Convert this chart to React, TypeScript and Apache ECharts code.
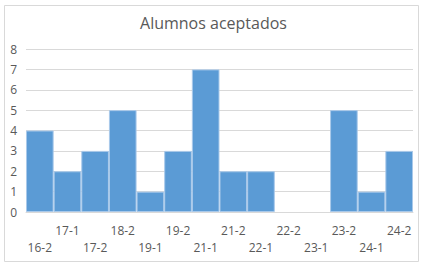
import React, { useEffect, useRef } from "react";
import * as echarts from "echarts";

const categories = ["16-2", "17-1", "17-2", "18-2", "19-1", "19-2", "21-1", "21-2", "22-1", "22-2", "23-1", "23-2", "24-1", "24-2"];
const values = [4, 2, 3, 5, 1, 3, 7, 2, 2, 0, 0, 5, 1, 3];
const yTicks = { min: 0, max: 8, interval: 1 };
const title = "Alumnos aceptados";

export default function App() {
  const ref = useRef<HTMLDivElement>(null);
  useEffect(() => {
    if (!ref.current) return;
    const chart = echarts.init(ref.current, null, { renderer: "svg" });
    const font = "Open Sans";
    chart.setOption({
      animation: false,
      backgroundColor: "#ffffff",
      textStyle: { fontFamily: font },
      title: {
        text: title,
        left: "center",
        top: 10,
        textStyle: { fontFamily: font, fontSize: 16, fontWeight: "normal", color: "#595959" },
      },
      graphic: [
        {
          type: "rect",
          shape: { x: 4.5, y: 5.5, width: 414, height: 256 },
          style: { fill: "none", stroke: "#d9d9d9", lineWidth: 1 },
          silent: true,
        },
      ],
      grid: { left: 26, right: 14, top: 49, bottom: 57 },
      xAxis: {
        type: "category",
        data: categories,
        axisTick: { show: false },
        axisLine: { lineStyle: { color: "#d9d9d9" } },
        axisLabel: {
          interval: 0,
          margin: 10,
          fontSize: 12,
          lineHeight: 17,
          color: "#595959",
          fontFamily: font,
          formatter: (v: string, i: number) => (i % 2 === 1 ? v : "\n" + v),
        },
      },
      yAxis: {
        type: "value",
        min: yTicks.min,
        max: yTicks.max,
        interval: yTicks.interval,
        axisLine: { show: false },
        axisTick: { show: false },
        splitLine: { lineStyle: { color: "#d9d9d9" } },
        axisLabel: { margin: 9, fontSize: 12, color: "#595959", fontFamily: font },
      },
      series: [
        {
          type: "bar",
          data: values.map((v) => ({
            value: v,
            itemStyle: v === 0 ? { borderWidth: 0, opacity: 0 } : undefined,
          })),
          barWidth: "100%",
          barCategoryGap: 0,
          itemStyle: { color: "#5b9bd5", borderColor: "#a9c9ea", borderWidth: 1 },
        },
      ],
    });
    return () => chart.dispose();
  }, []);
  return <div ref={ref} style={{ position: "fixed", left: 0, top: 0, width: 427, height: 269 }} />;
}
